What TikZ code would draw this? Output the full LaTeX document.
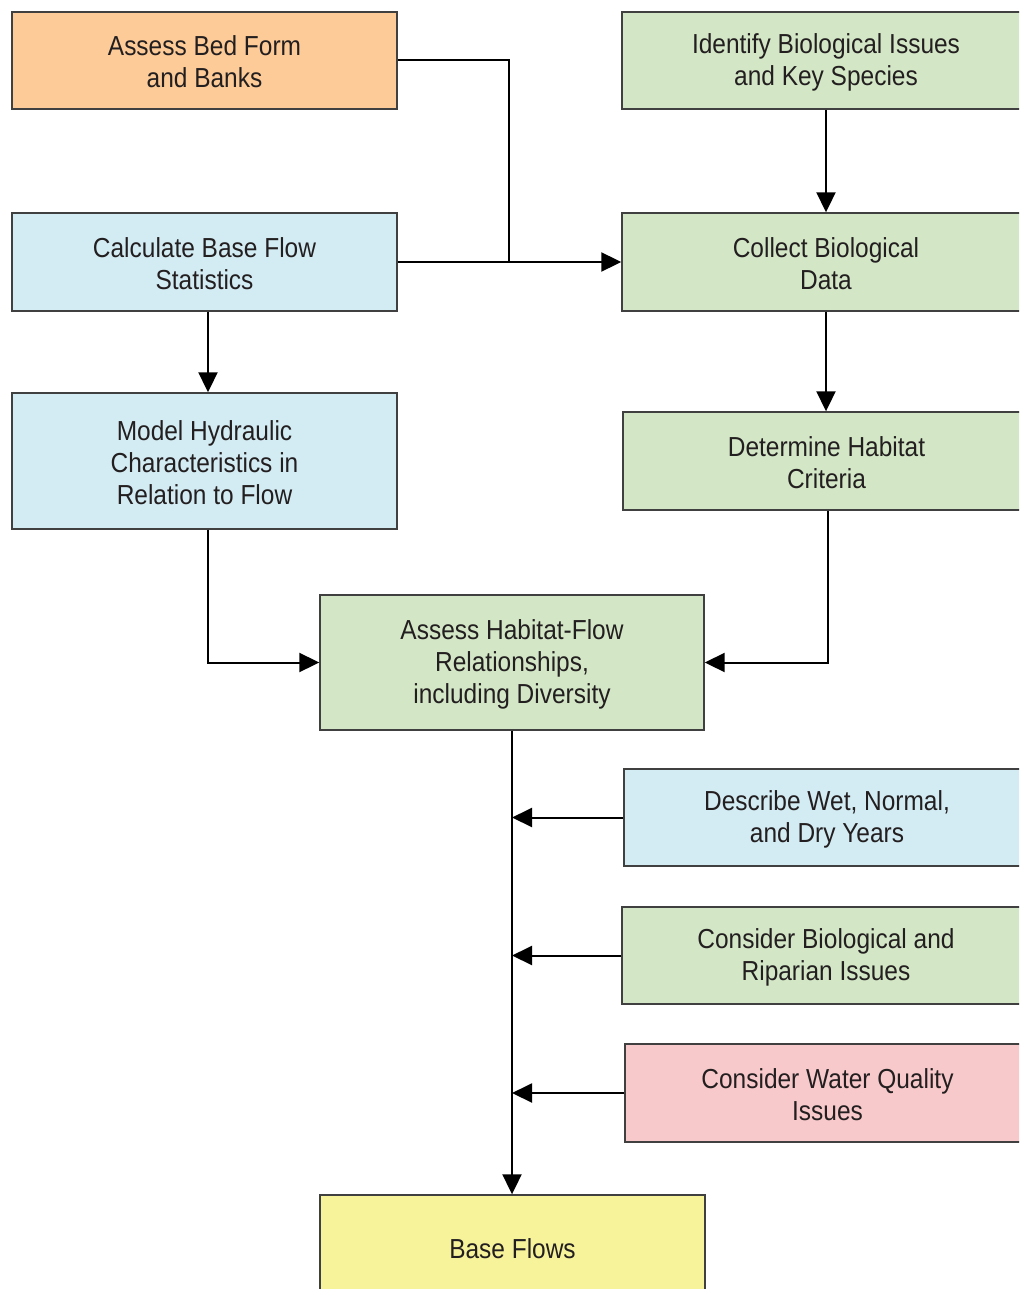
\documentclass[tikz,border=0pt]{standalone}
\usepackage{fontspec}
\setmainfont{Liberation Sans}[FakeStretch=0.89]
\usetikzlibrary{arrows.meta}
\definecolor{cOrange}{HTML}{FDCB97}
\definecolor{cGreen}{HTML}{D3E7C6}
\definecolor{cBlue}{HTML}{D3ECF3}
\definecolor{cPink}{HTML}{F8C9CB}
\definecolor{cYellow}{HTML}{F7F39B}
\definecolor{cText}{HTML}{231F20}
\definecolor{cBorder}{HTML}{404040}
\newcommand\sL{\rule[-2pt]{0pt}{26pt}}
\tikzset{
  box/.style={draw=cBorder, line width=1.4pt, rectangle, inner sep=0pt, align=center,
    text=cText, font=\fontsize{27.5}{32}\selectfont},
  conn/.style={line width=2pt, draw=black},
  arr/.style={conn, -{Triangle[length=20pt,width=19pt]}},
}
\begin{document}
\begin{tikzpicture}[x=1pt,y=-1pt]
\useasboundingbox (0,0) rectangle (1019,1289);
\clip (0,0) rectangle (1019,1289);
\fill[white] (0,0) rectangle (1019,1289);
\node[box, fill=cOrange, minimum width=385pt, minimum height=97pt] (bed) at (204.5,60.5) {\sL Assess Bed Form\\\sL and Banks};
\node[box, fill=cGreen, minimum width=408pt, minimum height=97pt] (ident) at (826,60.5) {\sL Identify Biological Issues\\\sL and Key Species};
\node[box, fill=cBlue, minimum width=385pt, minimum height=98pt] (calc) at (204.5,262) {\sL Calculate Base Flow\\\sL Statistics};
\node[box, fill=cGreen, minimum width=408pt, minimum height=98pt] (coll) at (826,262) {\sL Collect Biological\\\sL Data};
\node[box, fill=cBlue, minimum width=385pt, minimum height=136pt] (model) at (204.5,461) {\sL Model Hydraulic\\\sL Characteristics in\\\sL Relation to Flow};
\node[box, fill=cGreen, minimum width=407pt, minimum height=98pt] (det) at (826.5,461) {\sL Determine Habitat\\\sL Criteria};
\node[box, fill=cGreen, minimum width=384pt, minimum height=135pt] (ahf) at (512,662.5) {\sL Assess Habitat-Flow\\\sL Relationships,\\\sL including Diversity};
\node[box, fill=cBlue, minimum width=406pt, minimum height=97pt] (desc) at (827,817.5) {\sL Describe Wet, Normal,\\\sL and Dry Years};
\node[box, fill=cGreen, minimum width=408pt, minimum height=97pt] (cbio) at (826,955.5) {\sL Consider Biological and\\\sL Riparian Issues};
\node[box, fill=cPink, minimum width=405pt, minimum height=98pt] (water) at (827.5,1093) {\sL Consider Water Quality\\\sL Issues};
\node[box, fill=cYellow, minimum width=385pt, minimum height=104pt] (base) at (512.5,1247) {\sL Base Flows};

\coordinate (j) at (509,262);
\draw[conn] (bed.east) -| (j);
\draw[arr] (calc.east) -- (coll.west);
\draw[arr] (ident.south) -- (coll.north);
\draw[arr] ([xshift=3.5pt]calc.south) -- ([xshift=3.5pt]model.north);
\draw[arr] (coll.south) -- (det.north -| coll.south);
\draw[arr] ([xshift=3.5pt]model.south) |- (ahf.west);
\draw[arr] ([xshift=1.5pt]det.south) |- (ahf.east);
\draw[arr] (ahf.south) -- (ahf.south |- base.north);
\draw[arr] (desc.west) -- (ahf.south |- desc.west);
\draw[arr] (cbio.west) -- (ahf.south |- cbio.west);
\draw[arr] (water.west) -- (ahf.south |- water.west);
\end{tikzpicture}
\end{document}
